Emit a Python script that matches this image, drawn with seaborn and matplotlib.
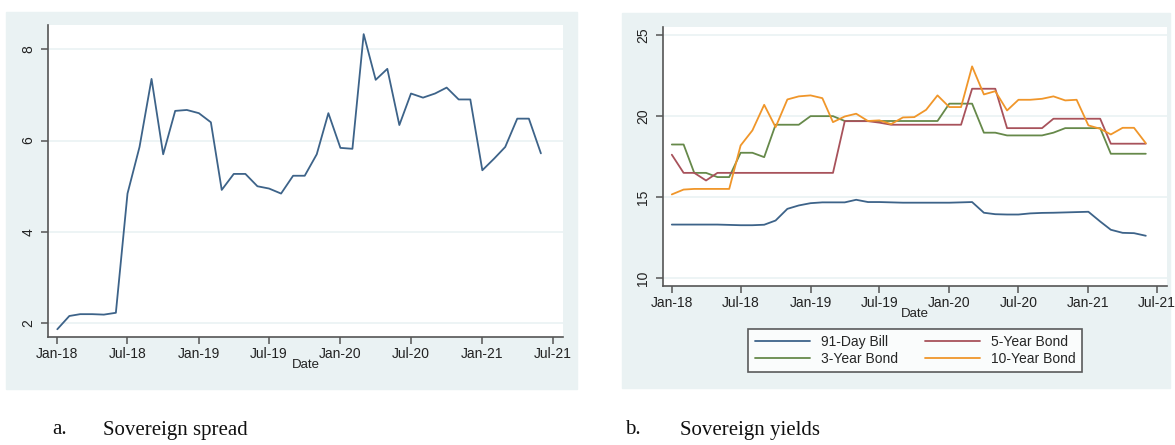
import numpy as np
import pandas as pd
import matplotlib
matplotlib.use("Agg")
import matplotlib.pyplot as plt
import matplotlib.dates as mdates
from matplotlib.patches import Rectangle
import seaborn as sns

# monthly observations, Jan-2018 .. Jun-2021
dates = pd.date_range("2018-01-01", periods=42, freq="MS")

spread = [1.87, 2.16, 2.20, 2.20, 2.19, 2.23, 4.84, 5.86, 7.35, 5.70,
          6.65, 6.67, 6.60, 6.40, 4.92, 5.27, 5.27, 5.00, 4.95, 4.84,
          5.23, 5.23, 5.70, 6.60, 5.84, 5.82, 8.33, 7.33, 7.57, 6.34,
          7.03, 6.94, 7.03, 7.16, 6.90, 6.90, 5.35, 5.61, 5.86, 6.48,
          6.48, 5.72]

bill_91 = [13.31, 13.31, 13.31, 13.31, 13.31, 13.29, 13.27, 13.27, 13.30, 13.56,
           14.28, 14.49, 14.63, 14.68, 14.68, 14.68, 14.84, 14.70, 14.70, 14.68,
           14.66, 14.66, 14.66, 14.66, 14.66, 14.68, 14.70, 14.04, 13.95, 13.93,
           13.93, 14.00, 14.03, 14.04, 14.06, 14.08, 14.10, 13.50, 12.99, 12.80,
           12.78, 12.62]

bond_3y = [18.25, 18.25, 16.50, 16.50, 16.24, 16.24, 17.74, 17.74, 17.47, 19.47,
           19.47, 19.47, 20.00, 20.00, 20.00, 19.70, 19.70, 19.70, 19.70, 19.70,
           19.70, 19.70, 19.70, 19.70, 20.77, 20.77, 20.77, 18.98, 18.98, 18.81,
           18.81, 18.81, 18.81, 18.98, 19.26, 19.26, 19.26, 19.26, 17.68, 17.68,
           17.68, 17.68]

bond_5y = [17.62, 16.50, 16.50, 16.03, 16.50, 16.50, 16.50, 16.50, 16.50, 16.50,
           16.50, 16.50, 16.50, 16.50, 16.50, 19.69, 19.69, 19.69, 19.60, 19.47,
           19.47, 19.47, 19.47, 19.47, 19.47, 19.47, 21.69, 21.69, 21.69, 19.26,
           19.26, 19.26, 19.26, 19.84, 19.84, 19.84, 19.84, 19.84, 18.30, 18.30,
           18.30, 18.30]

bond_10y = [15.17, 15.47, 15.51, 15.51, 15.51, 15.51, 18.19, 19.12, 20.70, 19.32,
            21.03, 21.22, 21.28, 21.11, 19.63, 19.98, 20.15, 19.70, 19.74, 19.51,
            19.92, 19.94, 20.39, 21.28, 20.56, 20.56, 23.07, 21.34, 21.54, 20.35,
            21.01, 21.01, 21.07, 21.22, 20.97, 21.01, 19.43, 19.22, 18.87, 19.28,
            19.28, 18.33]

series_names = ["91-Day Bill", "3-Year Bond", "5-Year Bond", "10-Year Bond"]
series_colors = ["#3d6389", "#66894a", "#a8525b", "#f0962a"]
tick_dates = pd.date_range("2018-01-01", "2021-07-01", freq="6MS")

sns.set_theme(style="white")
plt.rcParams["font.family"] = ["Liberation Sans", "DejaVu Sans"]

bg = "#eaf2f3"
fig = plt.figure(figsize=(11.75, 4.45), dpi=100)
W, H = 1175, 445

# stata-style graph regions
fig.patches.append(Rectangle((6 / W, 1 - 389 / H), 571 / W, 377 / H,
                             transform=fig.transFigure, color=bg, zorder=-5))
fig.patches.append(Rectangle((622 / W, 1 - 388 / H), 548 / W, 375 / H,
                             transform=fig.transFigure, color=bg, zorder=-5))

ax1 = fig.add_axes([48 / W, 1 - 337 / H, 515 / W, 312 / H])
ax2 = fig.add_axes([662.7 / W, 1 - 286 / H, 504 / W, 259 / H])
ax1.set_zorder(2)
ax2.set_zorder(2)


def style_axis(ax, yticks, ylim, xlim):
    ax.set_facecolor("white")
    ax.set_ylim(*ylim)
    ax.set_xlim(*xlim)
    ax.set_yticks(yticks)
    ax.set_xticks(tick_dates)
    ax.xaxis.set_major_formatter(mdates.DateFormatter("%b-%y"))
    for t in ax.get_yticklabels():
        t.set_rotation(90)
        t.set_va("center")
    ax.grid(axis="y", color=bg, linewidth=1.2)
    ax.grid(axis="x", visible=False)
    for s in ["top", "right"]:
        ax.spines[s].set_visible(False)
    for s in ["left", "bottom"]:
        ax.spines[s].set_color("#555555")
        ax.spines[s].set_linewidth(1.2)
    ax.tick_params(axis="both", which="major", direction="out", length=5,
                   width=1.1, color="#555555", labelsize=10, labelcolor="#222222",
                   left=True, bottom=True)
    ax.tick_params(axis="y", pad=4)
    ax.tick_params(axis="x", pad=2)
    ax.set_xlabel("Date", fontsize=9.5, labelpad=-1, color="#222222")
    ax.set_ylabel("")


# panel a: spread
df_a = pd.DataFrame({"Date": dates, "Spread": spread})
sns.lineplot(data=df_a, x="Date", y="Spread", ax=ax1, color="#3d6389", linewidth=1.3)
style_axis(ax1, [2, 4, 6, 8], (1.70, 8.53),
           (pd.Timestamp("2017-12-08"), pd.Timestamp("2021-07-28")))

# panel b: yields
df_b = pd.DataFrame({"Date": dates, "91-Day Bill": bill_91, "3-Year Bond": bond_3y,
                     "5-Year Bond": bond_5y, "10-Year Bond": bond_10y})
long_b = df_b.melt(id_vars="Date", var_name="Series", value_name="Yield")
sns.lineplot(data=long_b, x="Date", y="Yield", hue="Series", hue_order=series_names,
             palette=series_colors, ax=ax2, linewidth=1.3)
style_axis(ax2, [10, 15, 20, 25], (9.52, 25.5),
           (pd.Timestamp("2017-12-08"), pd.Timestamp("2021-07-26")))

handles, labels = ax2.get_legend_handles_labels()
ax2.get_legend().remove()
leg = fig.legend(handles, labels, ncol=2, loc="center",
                 bbox_to_anchor=(915.4 / W, 1 - 350.5 / H), fontsize=10,
                 frameon=True, fancybox=False, edgecolor="#333333",
                 handlelength=4.0, columnspacing=1.9, labelspacing=0.2,
                 borderpad=0.45, handletextpad=0.8)
leg.get_frame().set_linewidth(1.2)
leg.get_frame().set_facecolor("white")

# captions
cap_kw = dict(fontsize=15, family=["Liberation Serif", "DejaVu Serif"], va="center",
              color="#111111")
fig.text(52 / W, 1 - 430 / H, "a.", **cap_kw)
fig.text(103 / W, 1 - 430 / H, "Sovereign spread", **cap_kw)
fig.text(625 / W, 1 - 430 / H, "b.", **cap_kw)
fig.text(680 / W, 1 - 430 / H, "Sovereign yields", **cap_kw)

fig.savefig("out.png", dpi=100, facecolor="white")
